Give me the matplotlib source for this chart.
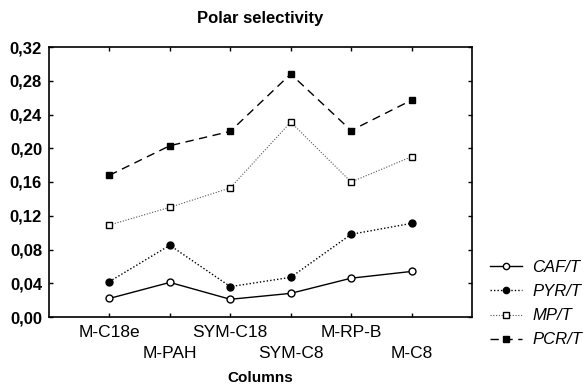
import matplotlib
matplotlib.use("Agg")
import matplotlib.pyplot as plt
import numpy as np

columns = ["M-C18e", "M-PAH", "SYM-C18", "SYM-C8", "M-RP-B", "M-C8"]
caf_t = [0.022, 0.041, 0.021, 0.028, 0.046, 0.054]
pyr_t = [0.042, 0.085, 0.036, 0.047, 0.098, 0.111]
mp_t = [0.109, 0.130, 0.153, 0.231, 0.160, 0.190]
pcr_t = [0.168, 0.203, 0.220, 0.288, 0.221, 0.257]
yticks = [0.00, 0.04, 0.08, 0.12, 0.16, 0.20, 0.24, 0.28, 0.32]

plt.rcParams['font.family'] = ['Liberation Sans', 'DejaVu Sans']

fig = plt.figure(figsize=(5.85, 3.84), dpi=100)
ax = fig.add_axes([49 / 585, 1 - 317 / 384, (472 - 49) / 585, (317 - 47) / 384])

x = np.arange(len(columns))
ax.plot(x, caf_t, color='black', lw=1.0, ls='-', marker='o', ms=5,
        mfc='white', mec='black', mew=1.0, label='CAF/T')
ax.plot(x, pyr_t, color='black', lw=1.0, ls=(0, (1, 1.5)), marker='o', ms=5,
        mfc='black', mec='black', label='PYR/T')
ax.plot(x, mp_t, color='#555555', lw=0.8, ls=(0, (1, 1.5)), marker='s', ms=5,
        mfc='white', mec='black', mew=1.0, label='MP/T')
ax.plot(x, pcr_t, color='black', lw=1.0, ls=(0, (6, 4)), marker='s', ms=5,
        mfc='black', mec='black', label='PCR/T')

ax.set_xlim(-1, 6)
ax.set_ylim(0, 0.32)
ax.set_yticks(yticks)
ax.set_yticklabels([f"{v:.2f}".replace('.', ',') for v in yticks],
                   fontsize=12, fontweight='bold')
# alternate rows of category labels: even on major ticks, odd on minor ticks
ax.set_xticks(x[::2])
ax.set_xticklabels(columns[::2], fontsize=12.5)
ax.set_xticks(x[1::2], minor=True)
ax.set_xticklabels(columns[1::2], minor=True, fontsize=12.5)
ax.tick_params(axis='both', which='both', direction='in', length=3, width=1,
               top=True, right=True)
ax.tick_params(axis='x', which='major', pad=6)
ax.tick_params(axis='x', which='minor', pad=21)
ax.tick_params(axis='y', pad=5)
for s in ax.spines.values():
    s.set_linewidth(1.2)

ax.set_title("Polar selectivity", fontsize=12, fontweight='bold', pad=17)
ax.set_xlabel("Columns", fontsize=11, fontweight='bold')
ax.xaxis.set_label_coords(0.5, -0.2)

leg = ax.legend(loc='upper left', bbox_to_anchor=(490 / 585, 1 - 260 / 384),
                bbox_transform=fig.transFigure, frameon=False,
                prop={'size': 12, 'style': 'italic'}, handlelength=1.9,
                handletextpad=0.65, labelspacing=0.55, borderaxespad=0,
                borderpad=0, markerscale=0.9)

fig.savefig("out.png", dpi=100)
